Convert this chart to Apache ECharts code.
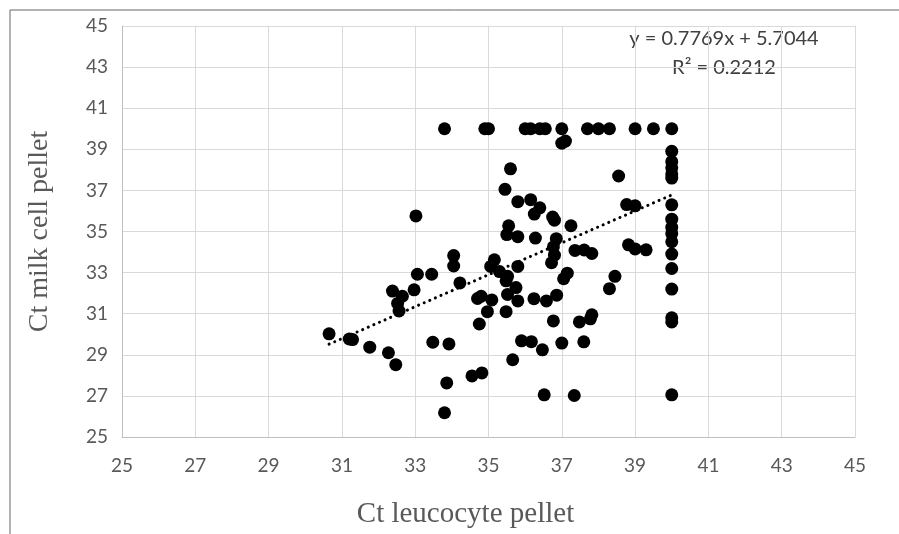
<!DOCTYPE html>
<html>
<head>
<meta charset="utf-8">
<script src="https://cdn.jsdelivr.net/npm/echarts@6/dist/echarts.min.js"></script>
<style>
  html, body { margin: 0; padding: 0; background: #fff; }
  #chart { width: 899px; height: 534px; }
</style>
</head>
<body>
<div id="chart"></div>
<script>
// Ct values (leucocyte pellet = x, milk cell pellet = y)
var leucocyteCt = [
  33.8, 34.9, 35.0, 36.0, 36.15, 36.4, 36.55, 37.0, 37.7, 38.0, 38.3, 39.0, 39.5, 40.0,
  37.0, 37.1, 35.6, 38.55, 35.45, 35.8, 36.15, 36.4, 36.25, 36.75, 36.8, 37.25, 33.02,
  35.55, 35.5, 35.8, 36.28, 36.85, 36.77, 36.8, 36.72, 38.77, 39.0, 37.36, 37.61, 37.82,
  38.82, 39.0, 39.3, 37.15, 37.05, 38.45, 38.3, 34.05, 34.05, 33.06, 33.45, 32.38, 32.65,
  32.97, 32.52, 32.56, 34.22, 35.16, 35.06, 35.3, 35.52, 35.8, 35.48, 35.75, 34.7, 34.8,
  35.09, 34.97, 34.75, 35.48, 35.52, 35.8, 36.24, 36.58, 36.86, 36.77, 37.48, 37.78, 37.82,
  37.0, 37.6, 35.9, 36.17, 36.47, 35.66, 30.65, 31.2, 31.29, 31.76, 32.27, 32.47, 33.48,
  33.92, 33.86, 33.8, 34.55, 34.82, 36.52, 37.34,
  40, 40, 40, 40, 40, 40, 40, 40, 40, 40, 40, 40, 40, 40, 40, 40
];
var milkCt = [
  40, 40, 40, 40, 40, 40, 40, 40, 40, 40, 40, 40, 40, 40,
  39.3, 39.4, 38.05, 37.7, 37.05, 36.45, 36.55, 36.15, 35.85, 35.7, 35.55, 35.28, 35.76,
  35.28, 34.85, 34.75, 34.68, 34.65, 34.25, 33.85, 33.48, 36.31, 36.25, 34.08, 34.1, 33.93,
  34.35, 34.15, 34.11, 32.97, 32.7, 32.82, 32.22, 33.83, 33.32, 32.92, 32.92, 32.1, 31.85,
  32.16, 31.5, 31.13, 32.5, 33.62, 33.3, 33.05, 32.82, 33.3, 32.6, 32.27, 31.74, 31.85,
  31.67, 31.1, 30.5, 31.1, 31.94, 31.62, 31.73, 31.62, 31.9, 30.65, 30.6, 30.75, 30.95,
  29.57, 29.63, 29.68, 29.64, 29.24, 28.76, 30.02, 29.77, 29.74, 29.37, 29.1, 28.52, 29.61,
  29.53, 27.63, 26.18, 27.97, 28.12, 27.05, 27.02,
  38.9, 38.4, 38.1, 37.8, 37.6, 36.3, 35.6, 35.2, 34.9, 34.5, 33.9, 33.2, 32.2, 30.8, 30.6, 27.05
];

// linear trend shown on the chart
var slope = 0.7769;
var intercept = 5.7044;
var rSquared = 0.2212;

// axis ticks
var axisMin = 25;
var axisMax = 45;
var tickStep = 2;

var points = [];
for (var i = 0; i < leucocyteCt.length; i++) {
  points.push([leucocyteCt[i], milkCt[i]]);
}

var xLo = Math.min.apply({}, leucocyteCt);
var xHi = Math.max.apply({}, leucocyteCt);
var trend = [
  [xLo, slope * xLo + intercept],
  [xHi, slope * xHi + intercept]
];

var labelFont = 'Lato, "Open Sans", sans-serif';
var titleFont = '"Liberation Serif", "DejaVu Serif", serif';

function eqText(txt, y) {
  return {
    type: 'text',
    x: 724, y: y,
    style: {
      text: txt,
      align: 'center', verticalAlign: 'middle',
      textAlign: 'center', textVerticalAlign: 'middle',
      font: '20px ' + labelFont, fill: '#404040'
    }
  };
}

var option = {
  animation: false,
  grid: { left: 122, right: 44, top: 26, bottom: 96 },
  xAxis: {
    type: 'value',
    min: axisMin, max: axisMax, interval: tickStep,
    name: 'Ct leucocyte pellet',
    nameLocation: 'middle',
    nameGap: 63,
    nameTextStyle: { fontFamily: titleFont, fontSize: 29, color: '#595959', padding: [0, 46, 0, 0] },
    axisLine: { lineStyle: { color: '#bfbfbf' } },
    axisTick: { show: false },
    axisLabel: { margin: 19, fontFamily: labelFont, fontSize: 19, color: '#595959' },
    splitLine: { lineStyle: { color: '#d9d9d9' } }
  },
  yAxis: {
    type: 'value',
    min: axisMin, max: axisMax, interval: tickStep,
    name: 'Ct milk cell pellet',
    nameLocation: 'middle',
    nameGap: 68,
    nameTextStyle: { fontFamily: titleFont, fontSize: 28, color: '#595959' },
    axisLine: { show: true, lineStyle: { color: '#bfbfbf' } },
    axisTick: { show: false },
    axisLabel: { margin: 14, fontFamily: labelFont, fontSize: 19, color: '#595959' },
    splitLine: { lineStyle: { color: '#d9d9d9' } }
  },
  series: [
    {
      type: 'scatter',
      data: points,
      symbol: 'circle',
      symbolSize: 13,
      itemStyle: { color: '#000', opacity: 1 }
    },
    {
      type: 'line',
      data: trend,
      symbol: 'none',
      silent: true,
      lineStyle: { color: '#000', width: 3, type: [0.1, 6], cap: 'round' }
    }
  ],
  graphic: [
    // outer frame (top and left edges visible)
    { type: 'line', shape: { x1: 10, y1: 10, x2: 899, y2: 10 }, style: { stroke: '#666', lineWidth: 1 } },
    { type: 'line', shape: { x1: 10, y1: 10, x2: 10, y2: 534 }, style: { stroke: '#666', lineWidth: 1 } },
    eqText('y = ' + slope + 'x + ' + intercept, 39),
    eqText('R² = ' + rSquared, 68)
  ]
};

var myChart = echarts.init(document.getElementById('chart'));
myChart.setOption(option);
</script>
</body>
</html>
